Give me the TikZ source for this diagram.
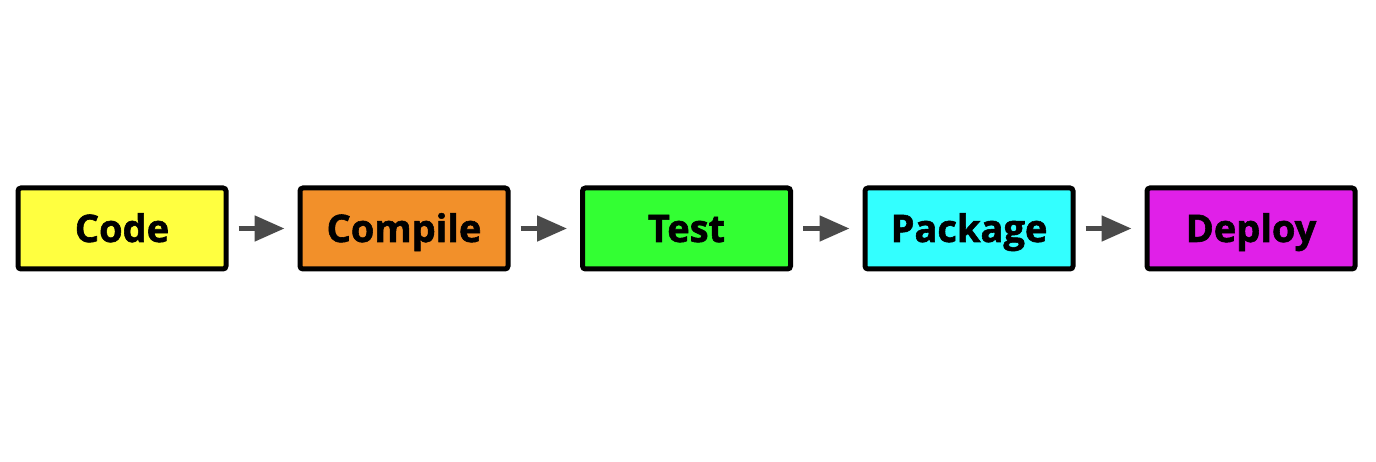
\documentclass[tikz,border=0pt]{standalone}
\usepackage{fontspec}
\setmainfont{Open Sans}[BoldFeatures={FakeBold=1.5}]
\usetikzlibrary{arrows.meta}
\definecolor{cyel}{HTML}{FFFF40}
\definecolor{corg}{HTML}{F2902A}
\definecolor{cgrn}{HTML}{33FF33}
\definecolor{ccyn}{HTML}{33FFFF}
\definecolor{cmag}{HTML}{E020E8}
\definecolor{carr}{HTML}{4A4A4A}
\tikzset{
  stagebox/.style={draw=black, line width=5pt, rounded corners=3pt, minimum width=208pt, minimum height=81pt, inner sep=0pt, text height=27pt, text depth=0pt, font=\fontsize{38}{44}\selectfont\bfseries},
  flowarrow/.style={draw=carr, line width=5pt, -{Triangle[length=30pt,width=25pt]}, shorten <=10pt, shorten >=13pt}
}
\begin{document}
\begin{tikzpicture}[x=1pt,y=1pt]
\useasboundingbox (0,0) rectangle (1376,462);
\node[stagebox, fill=cyel] (code) at (122,233.5) {Code};
\node[stagebox, fill=corg] (compile) at (404,233.5) {Compile};
\node[stagebox, fill=cgrn] (test) at (686.5,233.5) {Test};
\node[stagebox, fill=ccyn] (package) at (969,233.5) {Package};
\node[stagebox, fill=cmag] (deploy) at (1251,233.5) {Deploy};
\draw[flowarrow] (code) -- (compile);
\draw[flowarrow] (compile) -- (test);
\draw[flowarrow] (test) -- (package);
\draw[flowarrow] (package) -- (deploy);
\end{tikzpicture}
\end{document}
